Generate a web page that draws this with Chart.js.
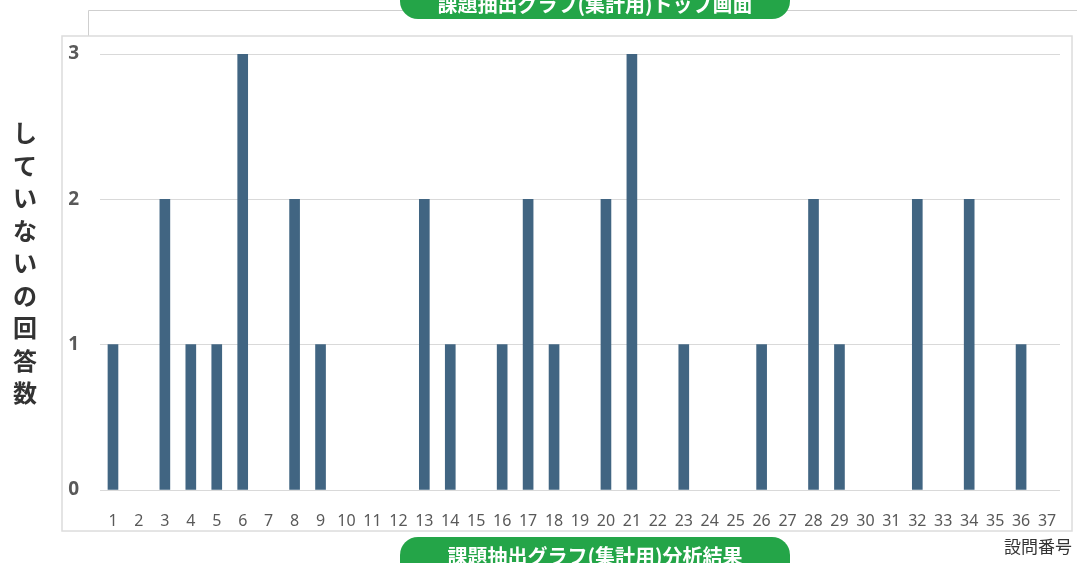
<!DOCTYPE html>
<html lang="ja">
<head>
    <meta charset="UTF-8">
    <title>設問番号別 回答数</title>
    <script src="https://cdn.jsdelivr.net/npm/chart.js"></script>
    <style>
        html, body { margin: 0; padding: 0; background: #fff; }
        #wrap { width: 1077px; height: 563px; position: relative; }
    </style>
</head>
<body>
<div id="wrap"><canvas id="answerChart" width="1077" height="563"></canvas></div>
<script>
    // 設問番号 1〜37
    const questionNumbers = ['1','2','3','4','5','6','7','8','9','10','11','12','13','14','15','16','17','18','19',
        '20','21','22','23','24','25','26','27','28','29','30','31','32','33','34','35','36','37'];
    // 「していない」の回答数
    const notDoneCounts = [1,0,2,1,1,3,0,2,1,0,0,0,2,1,0,1,2,1,0,2,3,0,1,0,0,1,0,2,1,0,0,2,0,2,0,1,0];
    const yTicks = [0, 1, 2, 3];

    const yTitle = 'していないの回答数';
    const xTitle = '設問番号';
    const topButton = '課題抽出グラフ(集計用)トップ画面';
    const bottomButton = '課題抽出グラフ(集計用)分析結果';

    const JP = '"Noto Sans CJK JP", "Noto Sans", sans-serif';
    const GREEN = '#24a548';
    const BAR = '#416582';

    function pill(ctx, x, y, w, h, r, text, textY) {
        ctx.save();
        ctx.fillStyle = GREEN;
        ctx.beginPath();
        ctx.roundRect(x, y, w, h, r);
        ctx.fill();
        ctx.fillStyle = '#fff';
        ctx.font = 'bold 20px ' + JP;
        ctx.textAlign = 'center';
        ctx.textBaseline = 'middle';
        ctx.fillText(text, x + w / 2, textY);
        ctx.restore();
    }

    // frames, buttons and titles around the plot
    const decorations = {
        id: 'decorations',
        beforeDraw(chart) {
            const ctx = chart.ctx;
            ctx.save();
            ctx.fillStyle = '#fff';
            ctx.fillRect(0, 0, chart.width, chart.height);

            // outline of the panel behind
            ctx.strokeStyle = '#cfcfcf';
            ctx.lineWidth = 1;
            ctx.beginPath();
            ctx.moveTo(88.5, 36);
            ctx.lineTo(88.5, 10.5);
            ctx.lineTo(1077, 10.5);
            ctx.stroke();

            // chart box
            ctx.strokeStyle = '#dcdcdc';
            ctx.lineWidth = 1.5;
            ctx.strokeRect(62, 36, 1010, 495);
            ctx.restore();
        },
        afterDraw(chart) {
            const ctx = chart.ctx;
            ctx.save();
            // vertical y axis title, one character per line
            ctx.fillStyle = '#333';
            ctx.font = 'bold 24px ' + JP;
            ctx.textAlign = 'center';
            ctx.textBaseline = 'middle';
            [...yTitle].forEach((ch, i) => ctx.fillText(ch, 25, 133 + i * 32.5));

            ctx.font = '17px ' + JP;
            ctx.fillStyle = '#333';
            ctx.textAlign = 'right';
            ctx.fillText(xTitle, 1072, 547);
            ctx.restore();

            pill(ctx, 400, -22, 390, 41, 18, topButton, 4);
            pill(ctx, 400, 537, 390, 44, 18, bottomButton, 556);
        }
    };

    new Chart(document.getElementById('answerChart'), {
        type: 'bar',
        data: {
            labels: questionNumbers,
            datasets: [{
                label: xTitle,
                data: notDoneCounts,
                backgroundColor: c => (c.raw === 0 ? 'rgba(0,0,0,0)' : BAR),
                barThickness: 10
            }]
        },
        options: {
            responsive: false,
            animation: false,
            layout: { padding: { left: 62, right: 17, top: 54, bottom: 33 } },
            plugins: {
                legend: { display: false },
                tooltip: { enabled: false }
            },
            scales: {
                x: {
                    grid: { display: false },
                    border: { display: false },
                    ticks: {
                        color: '#595959',
                        font: { family: '"Noto Sans", sans-serif', size: 16 },
                        padding: 14,
                        maxRotation: 0,
                        autoSkip: false
                    },
                    afterFit(scale) { scale.height = 40; }
                },
                y: {
                    min: 0,
                    max: 3,
                    afterBuildTicks(scale) { scale.ticks = yTicks.map(v => ({ value: v })); },
                    grid: { color: '#d9d9d9', drawTicks: false },
                    border: { display: false },
                    ticks: {
                        color: '#595959',
                        font: { family: '"Noto Sans", sans-serif', size: 19, weight: 'bold' },
                        padding: 21
                    },
                    afterFit(scale) { scale.width = 38; }
                }
            }
        },
        plugins: [decorations]
    });
</script>
</body>
</html>
